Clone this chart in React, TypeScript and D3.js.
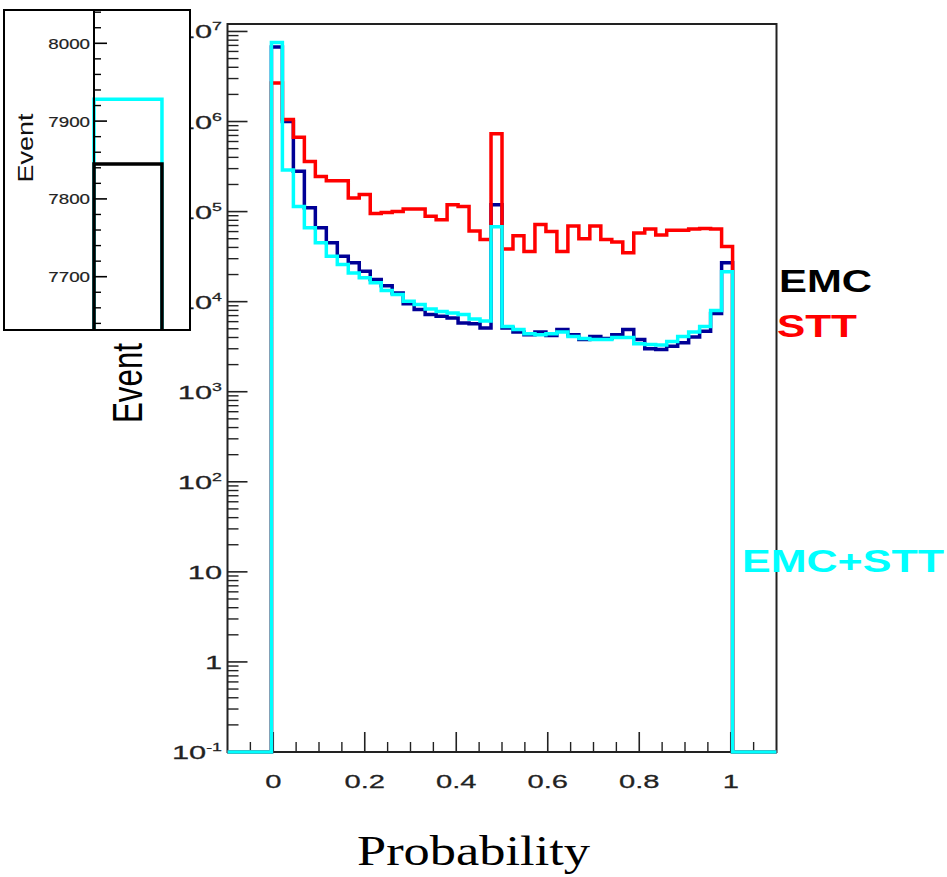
import React from "react";
import * as d3 from "d3";

// ---------- data ----------
const BIN_START = -0.004; // left edge of first filled bin
const BIN_WIDTH = 0.024;
const X_DOMAIN: [number, number] = [-0.1, 1.1];
const Y_MIN = 0.1;
const Y_MAX = 1.21e7;

const emcValues = [
  6.7e6, 1.0e6, 2.8e5, 1.1e5, 6.6e4, 4.5e4, 3.2e4, 2.7e4, 2.17e4, 1.76e4,
  1.5e4, 1.25e4, 9.5e3, 8.2e3, 7.2e3, 6.9e3, 6.6e3, 5.8e3, 5.7e3, 5.1e3,
  1.19e5, 5.1e3, 4.6e3, 4.3e3, 4.6e3, 4.2e3, 4.9e3, 4.3e3, 3.8e3, 4.1e3,
  3.9e3, 4.3e3, 4.9e3, 3.8e3, 3.0e3, 2.95e3, 3.2e3, 3.5e3, 4.05e3, 4.7e3,
  7.4e3, 2.7e4,
];
const sttValues = [
  2.67e6, 1.05e6, 6.7e5, 3.6e5, 2.45e5, 2.2e5, 2.2e5, 1.42e5, 1.55e5, 9.5e4,
  9.8e4, 1.0e5, 1.07e5, 1.07e5, 8.9e4, 8.1e4, 1.19e5, 1.14e5, 6.1e4, 4.9e4,
  7.3e5, 3.85e4, 5.4e4, 3.6e4, 7.2e4, 6.0e4, 3.6e4, 6.9e4, 5.0e4, 6.9e4,
  4.9e4, 4.6e4, 3.5e4, 5.8e4, 6.4e4, 5.5e4, 6.2e4, 6.2e4, 6.4e4, 6.5e4,
  6.4e4, 4.1e4,
];
const emcSttValues = [
  7.55e6, 2.9e5, 1.14e5, 6.6e4, 4.5e4, 3.2e4, 2.58e4, 2.08e4, 1.84e4, 1.62e4,
  1.33e4, 1.2e4, 1.01e4, 9.3e3, 8.3e3, 7.8e3, 7.5e3, 7.2e3, 6.4e3, 6.1e3,
  6.8e4, 5.3e3, 4.9e3, 4.4e3, 4.3e3, 4.4e3, 4.6e3, 4.1e3, 3.9e3, 3.8e3,
  3.8e3, 4.0e3, 4.0e3, 3.4e3, 3.35e3, 3.3e3, 3.6e3, 4.1e3, 4.6e3, 5.3e3,
  8.0e3, 2.15e4,
];

const yTickExponents = [-1, 0, 1, 2, 3, 4, 5, 6, 7];
const xMajorTicks = [0, 0.2, 0.4, 0.6, 0.8, 1];
const xTickLabels = ["0", "0.2", "0.4", "0.6", "0.8", "1"];
const xMinorTicks = [-0.05, 0.05, 0.1, 0.15, 0.25, 0.3, 0.35, 0.45, 0.5, 0.55, 0.65, 0.7, 0.75, 0.85, 0.9, 0.95, 1.05];

const legendLabels = ["EMC", "STT", "EMC+STT"];

// inset
const insetTicks = [7700, 7800, 7900, 8000];
const insetTickLabels = ["7700", "7800", "7900", "8000"];
const insetEmc = 7845;
const insetEmcStt = 7928;
const INSET_Y_DOMAIN: [number, number] = [7631.5, 8042.8];

// ---------- styles ----------
const C_EMC = "#000096";
const C_STT = "#ff0000";
const C_SUM = "#00ffff";
const AXIS = "#222";
const SANS = "'Liberation Sans', Arial, Helvetica, sans-serif";
const SERIF = "'Liberation Serif', 'Times New Roman', serif";

export default function App() {
  const W = 947, H = 877;
  const frame = { left: 227.5, right: 776.5, top: 24, bottom: 752 };
  const x = d3.scaleLinear().domain(X_DOMAIN).range([frame.left, frame.right]);
  const y = d3.scaleLog().domain([Y_MIN, Y_MAX]).range([frame.bottom, frame.top]);
  const yb = frame.bottom;

  const line = d3.line();
  const histPath = (values: number[]) => {
    const pts: [number, number][] = [[x(X_DOMAIN[0]), yb]];
    values.forEach((v, i) => {
      const x0 = x(BIN_START + i * BIN_WIDTH);
      const x1 = x(BIN_START + (i + 1) * BIN_WIDTH);
      if (i === 0) pts.push([x0, yb]);
      pts.push([x0, y(v)], [x1, y(v)]);
    });
    pts.push([x(BIN_START + values.length * BIN_WIDTH), yb], [x(X_DOMAIN[1]), yb]);
    return line(pts) || "";
  };

  const minorY: number[] = [];
  for (let e = -1; e < 7; e++) for (let m = 2; m <= 9; m++) minorY.push(m * Math.pow(10, e));

  // inset scales
  const inset = { left: 4, top: 10, right: 190, bottom: 330, axis: 94 };
  const ix = d3.scaleLinear().domain([BIN_START, 0.0299]).range([inset.axis, inset.right]);
  const iy = d3.scaleLinear().domain(INSET_Y_DOMAIN).range([inset.bottom, inset.top]);
  const insetMinor = d3.range(7640, 8041, 20).filter((v) => v % 100 !== 0);
  const insetStep = (v: number) =>
    line([
      [ix(BIN_START), inset.bottom],
      [ix(BIN_START), iy(v)],
      [ix(BIN_START + BIN_WIDTH), iy(v)],
      [ix(BIN_START + BIN_WIDTH), inset.bottom],
    ]) || "";

  const legendPos = [
    { x: 779, y: 292, len: 93, color: "#000" },
    { x: 777, y: 337, len: 80, color: C_STT },
    { x: 742, y: 572, len: 202, color: C_SUM },
  ];

  const LBL_SX = 1.62;

  return (
    <svg width={W} height={H} style={{ position: "absolute", left: 0, top: 0, background: "#fff" }}>
      <rect x={0} y={0} width={W} height={H} fill="#fff" />
      {/* frame */}
      <rect x={frame.left} y={frame.top} width={frame.right - frame.left} height={frame.bottom - frame.top}
        fill="none" stroke={AXIS} strokeWidth={2} />

      {/* y ticks */}
      {yTickExponents.map((e) => (
        <line key={"ym" + e} x1={frame.left} x2={frame.left + 20} y1={y(Math.pow(10, e))} y2={y(Math.pow(10, e))}
          stroke={AXIS} strokeWidth={1.6} />
      ))}
      {minorY.map((v, i) => (
        <line key={"yn" + i} x1={frame.left} x2={frame.left + 11} y1={y(v)} y2={y(v)} stroke={AXIS} strokeWidth={1.4} />
      ))}
      {/* x ticks */}
      {xMajorTicks.map((t) => (
        <line key={"xm" + t} x1={x(t)} x2={x(t)} y1={frame.bottom} y2={frame.bottom - 20} stroke={AXIS} strokeWidth={1.6} />
      ))}
      {xMinorTicks.map((t) => (
        <line key={"xn" + t} x1={x(t)} x2={x(t)} y1={frame.bottom} y2={frame.bottom - 10} stroke={AXIS} strokeWidth={1.4} />
      ))}

      {/* y tick labels */}
      {yTickExponents.map((e) => {
        const yy = y(Math.pow(10, e));
        return (
          <g key={"yl" + e} transform={`translate(222,${yy + 7}) scale(${LBL_SX},1)`}>
            <text textAnchor="end" fontFamily={SANS} fontSize={19} fill={AXIS} stroke={AXIS} strokeWidth={0.25}>
              {e === 0 ? "1" : e === 1 ? "10" : (
                <>
                  <tspan>10</tspan>
                  <tspan dy={-8} fontSize={11}>{String(e)}</tspan>
                </>
              )}
            </text>
          </g>
        );
      })}
      {/* x tick labels */}
      {xMajorTicks.map((t, i) => (
        <g key={"xl" + t} transform={`translate(${x(t)},788) scale(${LBL_SX},1)`}>
          <text textAnchor="middle" fontFamily={SANS} fontSize={18} fill={AXIS} stroke={AXIS} strokeWidth={0.25}>{xTickLabels[i]}</text>
        </g>
      ))}

      {/* histograms */}
      <path d={histPath(emcValues)} fill="none" stroke={C_EMC} strokeWidth={3.5} strokeLinejoin="miter" />
      <path d={histPath(sttValues)} fill="none" stroke={C_STT} strokeWidth={3.5} strokeLinejoin="miter" />
      <path d={histPath(emcSttValues)} fill="none" stroke={C_SUM} strokeWidth={3.5} strokeLinejoin="miter" />

      {/* legend labels */}
      {legendLabels.map((l, i) => (
        <text key={l} x={legendPos[i].x} y={legendPos[i].y} fontFamily={SANS} fontWeight="bold" fontSize={31}
          fill={legendPos[i].color} textLength={legendPos[i].len} lengthAdjust="spacingAndGlyphs">{l}</text>
      ))}

      {/* axis titles */}
      <text transform="translate(141.5,383) rotate(-90)" textAnchor="middle" fontFamily={SANS} fontSize={42}
        fill="#000" textLength={80} lengthAdjust="spacingAndGlyphs">Event</text>
      <text x={473.5} y={865} textAnchor="middle" fontFamily={SERIF} fontSize={42} fill="#000"
        textLength={233} lengthAdjust="spacingAndGlyphs">Probability</text>

      {/* inset */}
      <defs>
        <clipPath id="insetClip">
          <rect x={inset.left} y={inset.top} width={inset.right - inset.left} height={inset.bottom - inset.top} />
        </clipPath>
      </defs>
      <rect x={inset.left} y={inset.top} width={inset.right - inset.left} height={inset.bottom - inset.top}
        fill="#fff" stroke="none" />
      <g clipPath="url(#insetClip)">
        <path d={insetStep(insetEmcStt)} fill="none" stroke={C_SUM} strokeWidth={3.5} />
        <path d={insetStep(insetEmc)} fill="none" stroke="#000" strokeWidth={3.5} />
        <line x1={inset.axis} x2={inset.axis} y1={inset.top} y2={inset.bottom} stroke="#000" strokeWidth={2} />
        {insetTicks.map((t) => (
          <line key={"it" + t} x1={inset.axis} x2={inset.axis + 13} y1={iy(t)} y2={iy(t)} stroke="#000" strokeWidth={1.6} />
        ))}
        {insetMinor.map((t) => (
          <line key={"in" + t} x1={inset.axis} x2={inset.axis + 7} y1={iy(t)} y2={iy(t)} stroke="#000" strokeWidth={1.4} />
        ))}
        {insetTicks.map((t, i) => (
          <g key={"il" + t} transform={`translate(90,${iy(t) + 5.5}) scale(1.25,1)`}>
            <text textAnchor="end" fontFamily={SANS} fontSize={15} fill="#222" stroke="#222" strokeWidth={0.2}>{insetTickLabels[i]}</text>
          </g>
        ))}
        <text transform="translate(33,148) rotate(-90)" textAnchor="middle" fontFamily={SANS} fontSize={22}
          fill="#111" textLength={69} lengthAdjust="spacingAndGlyphs">Event</text>
      </g>
      <rect x={inset.left} y={inset.top} width={inset.right - inset.left} height={inset.bottom - inset.top}
        fill="none" stroke="#000" strokeWidth={2} />
    </svg>
  );
}
